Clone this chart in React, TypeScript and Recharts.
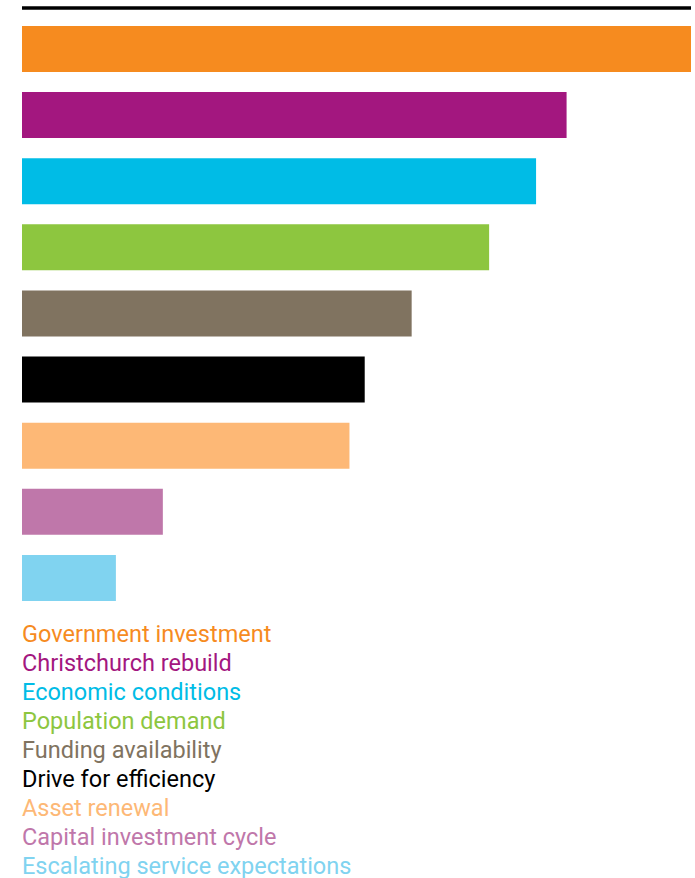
import { BarChart, Bar, XAxis, YAxis, Cell } from 'recharts'

// drivers of infrastructure investment, % of respondents
const categories = [
  'Government investment',
  'Christchurch rebuild',
  'Economic conditions',
  'Population demand',
  'Funding availability',
  'Drive for efficiency',
  'Asset renewal',
  'Capital investment cycle',
  'Escalating service expectations',
]
const values = [57, 46.4, 43.8, 39.8, 33.2, 29.2, 27.9, 12, 8]
const colors = [
  '#f68b1f',
  '#a3177f',
  '#00bce6',
  '#8dc63f',
  '#807360',
  '#000000',
  '#fdb876',
  '#bf77aa',
  '#80d3f0',
]

const data = categories.map((name, i) => ({ name, value: values[i] }))

export default function App() {
  return (
    <div style={{ position: 'absolute', left: 0, top: 0, width: 695, height: 878, background: '#fff', overflow: 'hidden' }}>
      <BarChart
        width={695}
        height={611}
        data={data}
        layout="vertical"
        margin={{ top: 7, right: 4, bottom: 0, left: 22 }}
        barSize={46}
      >
        <XAxis
          type="number"
          orientation="top"
          domain={[0, 57]}
          height={1}
          tick={false}
          tickLine={false}
          axisLine={{ stroke: '#000', strokeWidth: 3.5 }}
          allowDataOverflow
        />
        <YAxis type="category" dataKey="name" hide padding={{ top: 8, bottom: 0 }} />
        <Bar dataKey="value" isAnimationActive={false}>
          {data.map((d, i) => (
            <Cell key={d.name} fill={colors[i]} />
          ))}
        </Bar>
      </BarChart>
      <div style={{ marginTop: 9, paddingLeft: 22, fontFamily: 'Roboto, sans-serif', fontSize: 23.5, lineHeight: '29px' }}>
        {categories.map((c, i) => (
          <div key={c} style={{ color: colors[i], whiteSpace: 'nowrap' }}>
            {c}
          </div>
        ))}
      </div>
    </div>
  )
}
